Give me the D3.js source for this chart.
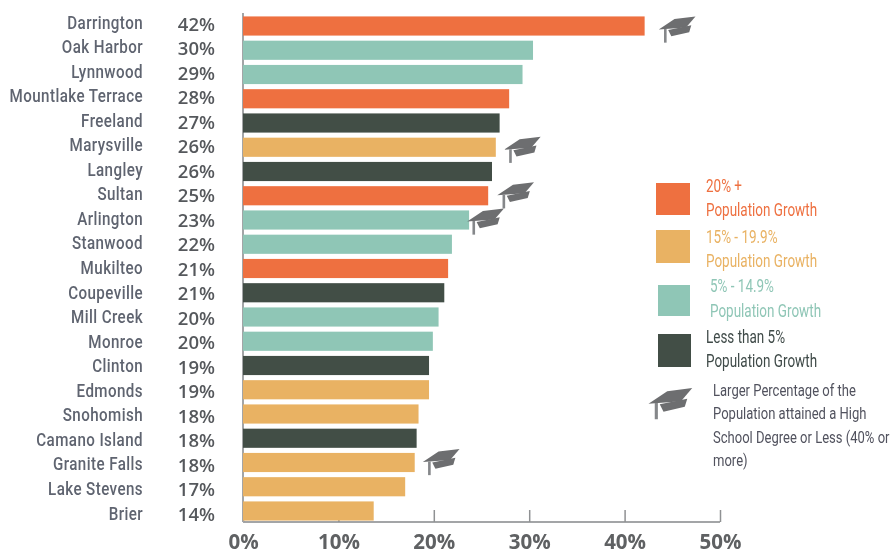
<!DOCTYPE html>
<html><head><meta charset="utf-8">
<style>html,body{margin:0;padding:0;background:#fff}svg{display:block}</style>
<script src="https://cdn.jsdelivr.net/npm/d3@7"></script></head>
<body><svg id="c" width="890" height="555"></svg>
<script>
const cities = ["Darrington","Oak Harbor","Lynnwood","Mountlake Terrace","Freeland","Marysville","Langley","Sultan","Arlington","Stanwood","Mukilteo","Coupeville","Mill Creek","Monroe","Clinton","Edmonds","Snohomish","Camano Island","Granite Falls","Lake Stevens","Brier"];
const values = [42.1,30.4,29.3,27.9,26.9,26.5,26.1,25.7,23.7,21.9,21.5,21.1,20.5,19.9,19.5,19.5,18.4,18.2,18.0,17.0,13.7];
const valueLabels = ["42%","30%","29%","28%","27%","26%","26%","25%","23%","22%","21%","21%","20%","20%","19%","19%","18%","18%","18%","17%","14%"];
const growthClass = ["high","mid2","mid2","high","low","mid1","low","high","mid2","mid2","high","low","mid2","mid2","low","mid1","mid1","low","mid1","mid1","mid1"];
const hatCities = ["Darrington","Marysville","Sultan","Arlington","Granite Falls"];
const xTicks = [0,10,20,30,40,50];
const classes = ["high","mid1","mid2","low"];
const classColors = ["#ee7040","#e9b263","#8fc6b6","#424e46"];
const legendLines = [["20% +","Population Growth"],["15% - 19.9%","Population Growth"],["5% - 14.9%","Population Growth"],["Less than 5%","Population Growth"]];
const hatNote = ["Larger Percentage of the","Population attained a High","School Degree or Less (40% or","more)"];

const svg = d3.select("#c");
const x = d3.scaleLinear().domain([0,50]).range([243,720]);
const y = d3.scaleBand().domain(cities).range([14,523]).paddingInner(0.21).paddingOuter(0.1);
const yCity = d3.scalePoint().domain(cities).range([22,513]);
const yPct = d3.scalePoint().domain(cities).range([24,514.5]);
const color = d3.scaleOrdinal().domain(classes).range(classColors);

function hat(g, cx, cy, s){
  const h = g.append("g").attr("transform",`translate(${cx},${cy}) scale(${s})`).attr("fill","#6d6e70");
  h.append("path").attr("d","M-3,-9.5 L17,-12 L8,-1.5 L-18,0.5 Z");
  h.append("path").attr("d","M-9,1 L13,-3.5 L11,3 L-6,7 Z");
  h.append("path").attr("d","M-13,0 L-10.5,0 L-10.5,13 L-13,13 Z").attr("fill","#85878a");
}

const root = svg.append("g").style("filter","blur(0.5px)");

// axis
const axis = root.append("g").attr("transform","translate(0,522)")
  .call(d3.axisBottom(x).tickValues(xTicks).tickFormat(d=>d+"%").tickSize(-12));
axis.select(".domain").attr("stroke","#a3a5a7").attr("stroke-width",2).attr("d","M243,0H720");
axis.selectAll(".tick line").attr("stroke","#8f9193").attr("stroke-width",1.5);
axis.selectAll(".tick text").attr("font-family","'Open Sans',sans-serif").attr("font-weight",700).attr("font-size",20.5).attr("fill","#5f6163")
  .attr("y",26.9).attr("dy",0);
root.append("line").attr("x1",243).attr("x2",243).attr("y1",13).attr("y2",522).attr("stroke","#a3a5a7").attr("stroke-width",2);

// bars
root.append("g").selectAll("rect").data(cities).join("rect")
  .attr("x",x(0)).attr("y",d=>y(d))
  .attr("width",(d,i)=>x(values[i])-x(0)).attr("height",y.bandwidth())
  .attr("fill",(d,i)=>color(growthClass[i]));

// labels
root.append("g").selectAll("text").data(cities).join("text")
  .attr("transform",d=>`translate(143,${yCity(d)+6.5}) scale(0.82,1)`).attr("text-anchor","end")
  .attr("font-family","Roboto,sans-serif").attr("font-weight",500).attr("font-size",18.5)
  .attr("letter-spacing",0.5).attr("fill","#5f6470").text(d=>d);
root.append("g").selectAll("text").data(valueLabels).join("text")
  .attr("x",215).attr("y",(d,i)=>yPct(cities[i])+6.5).attr("text-anchor","end")
  .attr("font-family","'Open Sans',sans-serif").attr("font-weight",600).attr("font-size",18.5)
  .attr("fill","#55585c").text(d=>d);

// hats
const hatNudge = {"Darrington":33,"Marysville":27,"Sultan":28,"Arlington":17,"Granite Falls":27};
const hatLift = {"Darrington":3,"Marysville":2,"Sultan":-1,"Arlington":1,"Granite Falls":-1};
hatCities.forEach(c=>hat(root, x(values[cities.indexOf(c)])+hatNudge[c], y(c)+y.bandwidth()/2+hatLift[c], 1.05));

// legend
const swatches = [[656,183,34,32],[656,230,34,33],[658,285,32,31],[658,334,33,33]];
const lines = [[[706,192],[706,216]],[[706,243],[706,267]],[[710,292],[710,317]],[[706,343],[706,367]]];
swatches.forEach((s,i)=>{
  root.append("rect").attr("x",s[0]).attr("y",s[1]).attr("width",s[2]).attr("height",s[3]).attr("fill",classColors[i]);
  legendLines[i].forEach((t,j)=>{
    root.append("text").attr("transform",`translate(${lines[i][j][0]},${lines[i][j][1]}) scale(0.77,1)`).text(t)
      .attr("font-family","Roboto,sans-serif").attr("font-size",17.5).attr("fill",i==3?"#3f4a48":classColors[i]);
  });
});
hat(root,671,403,1.25);
hatNote.forEach((t,i)=>root.append("text").attr("transform",`translate(713,${396+i*23.3}) scale(0.79,1)`).text(t)
  .attr("font-family","Roboto,sans-serif").attr("font-size",16.5).attr("fill","#51525e"));
</script></body></html>
